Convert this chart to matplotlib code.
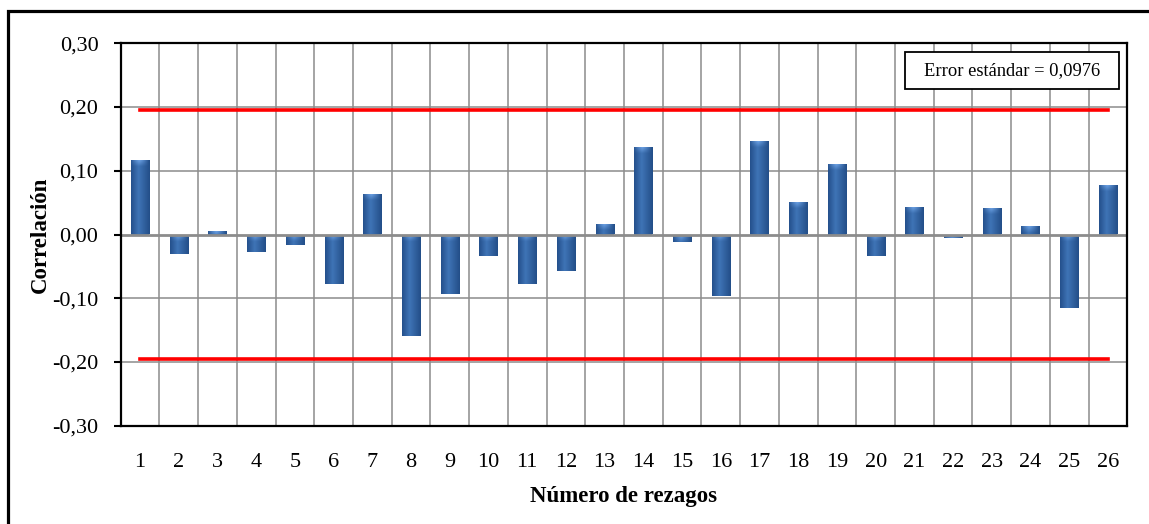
import numpy as np
import matplotlib
matplotlib.use("Agg")
import matplotlib.pyplot as plt
from matplotlib.patches import Rectangle
from matplotlib.colors import to_rgb

# ---- data ----
lags = list(range(1, 27))
correlations = [0.117, -0.030, 0.006, -0.027, -0.017, -0.078, 0.064, -0.159,
                -0.094, -0.033, -0.078, -0.058, 0.017, 0.137, -0.011, -0.097,
                0.147, 0.051, 0.111, -0.033, 0.043, -0.006, 0.042, 0.013,
                -0.115, 0.078]
std_error = 0.0976
limit = 0.196
y_ticks = [-0.30, -0.20, -0.10, 0.00, 0.10, 0.20, 0.30]
x_label = "Número de rezagos"
y_label = "Correlación"
box_text = "Error estándar = 0,0976"

plt.rcParams['font.family'] = ['Liberation Serif', 'DejaVu Serif']

W, H = 1149, 524
fig = plt.figure(figsize=(W / 100, H / 100), dpi=100)
ax = fig.add_axes([120.7 / W, 1 - 425.7 / H, (1127.3 - 120.7) / W, (425.7 - 43.3) / H])

ax.set_xlim(0.5, 26.5)
ax.set_ylim(-0.30, 0.30)

# grid
grid_c = '#8c8c8c'
for xv in np.arange(1.5, 26.5, 1.0):
    ax.axvline(xv, color=grid_c, lw=1.1, zorder=1)
for yv in y_ticks:
    if yv != 0:
        ax.axhline(yv, color=grid_c, lw=1.1, zorder=1)

# bars with gradient shading
bar_w = 0.47
bars = ax.bar(lags, correlations, width=bar_w, color='#2f62a2', zorder=3, linewidth=0)

left_c = np.array(to_rgb('#24508c'))
mid_c = np.array(to_rgb('#3f74b6'))
right_c = np.array(to_rgb('#234e88'))
hl_c = np.array(to_rgb('#7aaef0'))
nx = 40
t = np.linspace(0, 1, nx)
row = np.zeros((nx, 3))
for i, tv in enumerate(t):
    if tv < 0.4:
        f = tv / 0.4
        row[i] = left_c * (1 - f) + mid_c * f
    else:
        f = (tv - 0.4) / 0.6
        row[i] = mid_c * (1 - f) + right_c * f

for b in bars:
    x0 = b.get_x()
    x1 = x0 + b.get_width()
    y0 = b.get_y()
    h = b.get_height()
    ya, yb = min(y0, y0 + h), max(y0, y0 + h)
    ny = 200
    ys = np.linspace(yb, ya, ny)
    img = np.tile(row[None, :, :], (ny, 1, 1))
    dist = yb - ys
    cap = 0.011
    prof = np.clip(1 - np.abs(t - 0.45) / 0.5, 0, 1)
    for j in range(ny):
        if dist[j] < cap:
            f = 1 - dist[j] / cap
            w = (f * prof * 0.9)[:, None]
            img[j] = img[j] * (1 - w) + hl_c * w
    im = ax.imshow(img, extent=(x0, x1, ya, yb), aspect='auto', zorder=3,
                   interpolation='bilinear')
    im.set_clip_path(b)

# zero line
ax.axhline(0, color='#8c8c8c', lw=2.0, zorder=4)

# confidence limits
ax.plot([lags[0], lags[-1]], [limit, limit], color='#ff0000', lw=2.6, zorder=5)
ax.plot([lags[0], lags[-1]], [-limit, -limit], color='#ff0000', lw=2.6, zorder=5)

# ticks
ax.set_yticks(y_ticks)
ax.set_yticklabels([f"{v:.2f}".replace('.', ',') for v in y_ticks], fontsize=16)
ax.set_xticks(lags)
ax.set_xticklabels([str(v) for v in lags], fontsize=16)
ax.tick_params(axis='x', length=0, pad=20)
ax.tick_params(axis='y', length=5, width=1.5, direction='out', pad=11, color='black')

for s in ax.spines.values():
    s.set_color('black')
    s.set_linewidth(1.6)
    s.set_zorder(6)

ax.set_xlabel(x_label, fontsize=16.5, fontweight='bold', labelpad=10)
ax.set_ylabel(y_label, fontsize=16.5, fontweight='bold', labelpad=1)

# error box
bx0, bx1 = 0.7787, 0.9914
by0, by1 = 0.8805, 0.9772
ax.add_patch(Rectangle((bx0, by0), bx1 - bx0, by1 - by0, transform=ax.transAxes,
                       facecolor='white', edgecolor='black', lw=1.3, zorder=7))
ax.text((bx0 + bx1) / 2, (by0 + by1) / 2, box_text, transform=ax.transAxes,
        ha='center', va='center', fontsize=13.3, zorder=8)

# outer frame (only left and top visible)
fig.add_artist(Rectangle((8 / W, -0.2), 1.5, 1.2 - 11 / H, transform=fig.transFigure,
                         fill=False, edgecolor='black', lw=2.3, clip_on=False))

fig.savefig('out.png', dpi=100)
